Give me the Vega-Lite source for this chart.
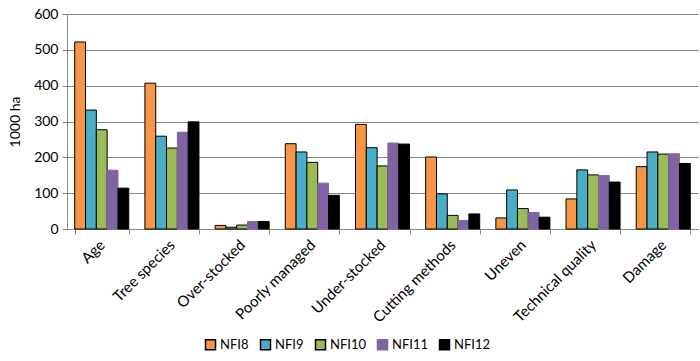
{
  "$schema": "https://vega.github.io/schema/vega-lite/v6.json",
  "width": 631,
  "height": 215,
  "autosize": {"type": "none"},
  "padding": {"left": 67, "top": 14, "right": 2, "bottom": 132},
  "background": "white",
  "config": {
    "font": "Lato",
    "view": {"stroke": null}
  },
  "data": {
    "values": [
      {"category": "Age", "inventory": "NFI8", "value": 522},
      {"category": "Age", "inventory": "NFI9", "value": 332},
      {"category": "Age", "inventory": "NFI10", "value": 277},
      {"category": "Age", "inventory": "NFI11", "value": 164},
      {"category": "Age", "inventory": "NFI12", "value": 114},
      {"category": "Tree species", "inventory": "NFI8", "value": 407},
      {"category": "Tree species", "inventory": "NFI9", "value": 259},
      {"category": "Tree species", "inventory": "NFI10", "value": 226},
      {"category": "Tree species", "inventory": "NFI11", "value": 270},
      {"category": "Tree species", "inventory": "NFI12", "value": 299},
      {"category": "Over-stocked", "inventory": "NFI8", "value": 10},
      {"category": "Over-stocked", "inventory": "NFI9", "value": 5},
      {"category": "Over-stocked", "inventory": "NFI10", "value": 11},
      {"category": "Over-stocked", "inventory": "NFI11", "value": 21},
      {"category": "Over-stocked", "inventory": "NFI12", "value": 21},
      {"category": "Poorly managed", "inventory": "NFI8", "value": 238},
      {"category": "Poorly managed", "inventory": "NFI9", "value": 215},
      {"category": "Poorly managed", "inventory": "NFI10", "value": 186},
      {"category": "Poorly managed", "inventory": "NFI11", "value": 128},
      {"category": "Poorly managed", "inventory": "NFI12", "value": 94},
      {"category": "Under-stocked", "inventory": "NFI8", "value": 292},
      {"category": "Under-stocked", "inventory": "NFI9", "value": 227},
      {"category": "Under-stocked", "inventory": "NFI10", "value": 176},
      {"category": "Under-stocked", "inventory": "NFI11", "value": 240},
      {"category": "Under-stocked", "inventory": "NFI12", "value": 237},
      {"category": "Cutting methods", "inventory": "NFI8", "value": 201},
      {"category": "Cutting methods", "inventory": "NFI9", "value": 98},
      {"category": "Cutting methods", "inventory": "NFI10", "value": 38},
      {"category": "Cutting methods", "inventory": "NFI11", "value": 24},
      {"category": "Cutting methods", "inventory": "NFI12", "value": 42},
      {"category": "Uneven", "inventory": "NFI8", "value": 31},
      {"category": "Uneven", "inventory": "NFI9", "value": 109},
      {"category": "Uneven", "inventory": "NFI10", "value": 57},
      {"category": "Uneven", "inventory": "NFI11", "value": 46},
      {"category": "Uneven", "inventory": "NFI12", "value": 33},
      {"category": "Technical quality", "inventory": "NFI8", "value": 84},
      {"category": "Technical quality", "inventory": "NFI9", "value": 165},
      {"category": "Technical quality", "inventory": "NFI10", "value": 151},
      {"category": "Technical quality", "inventory": "NFI11", "value": 149},
      {"category": "Technical quality", "inventory": "NFI12", "value": 131},
      {"category": "Damage", "inventory": "NFI8", "value": 174},
      {"category": "Damage", "inventory": "NFI9", "value": 215},
      {"category": "Damage", "inventory": "NFI10", "value": 209},
      {"category": "Damage", "inventory": "NFI11", "value": 210},
      {"category": "Damage", "inventory": "NFI12", "value": 183}
    ]
  },
  "mark": {"type": "bar", "strokeWidth": 1},
  "encoding": {
    "x": {
      "field": "category",
      "type": "nominal",
      "sort": null,
      "scale": {"paddingInner": 0.23, "paddingOuter": 0.11},
      "axis": {
        "title": null,
        "labelAngle": -45,
        "labelAlign": "right",
        "labelBaseline": "middle",
        "labelFontSize": 15,
        "labelColor": "#000000",
        "labelPadding": 8,
        "tickBand": "extent",
        "tickSize": 5,
        "tickColor": "#868686",
        "domainColor": "#868686",
        "grid": false
      }
    },
    "xOffset": {
      "field": "inventory",
      "type": "nominal",
      "sort": ["NFI8", "NFI9", "NFI10", "NFI11", "NFI12"],
      "scale": {"paddingInner": 0, "paddingOuter": 0}
    },
    "y": {
      "field": "value",
      "type": "quantitative",
      "scale": {"domain": [0, 600]},
      "axis": {
        "title": "1000 ha",
        "titleFontSize": 14,
        "titleFontWeight": "normal",
        "titleColor": "#000000",
        "titlePadding": 11,
        "values": [0, 100, 200, 300, 400, 500, 600],
        "labelFontSize": 14,
        "labelColor": "#000000",
        "labelPadding": 4,
        "tickSize": 5,
        "tickColor": "#868686",
        "domainColor": "#868686",
        "gridColor": "#868686",
        "gridWidth": 1
      }
    },
    "fill": {
      "field": "inventory",
      "type": "nominal",
      "sort": ["NFI8", "NFI9", "NFI10", "NFI11", "NFI12"],
      "scale": {
        "domain": ["NFI8", "NFI9", "NFI10", "NFI11", "NFI12"],
        "range": ["#F79646", "#4BACC6", "#9BBB59", "#8064A2", "#000000"]
      },
      "legend": {
        "title": null,
        "orient": "none",
        "direction": "horizontal",
        "legendX": 137,
        "legendY": 324,
        "columns": 5,
        "symbolType": "square",
        "symbolSize": 100,
        "labelFontSize": 13,
        "labelColor": "#000000",
        "columnPadding": 8,
        "labelOffset": 3
      }
    },
    "stroke": {
      "field": "inventory",
      "type": "nominal",
      "sort": ["NFI8", "NFI9", "NFI10", "NFI11", "NFI12"],
      "scale": {
        "domain": ["NFI8", "NFI9", "NFI10", "NFI11", "NFI12"],
        "range": ["#000000", "#000000", "#000000", "#8064A2", "#000000"]
      },
      "legend": {
        "title": null,
        "orient": "none",
        "direction": "horizontal",
        "legendX": 137,
        "legendY": 324,
        "columns": 5,
        "symbolType": "square",
        "symbolSize": 100,
        "labelFontSize": 13,
        "labelColor": "#000000",
        "columnPadding": 8,
        "labelOffset": 3
      }
    }
  }
}
